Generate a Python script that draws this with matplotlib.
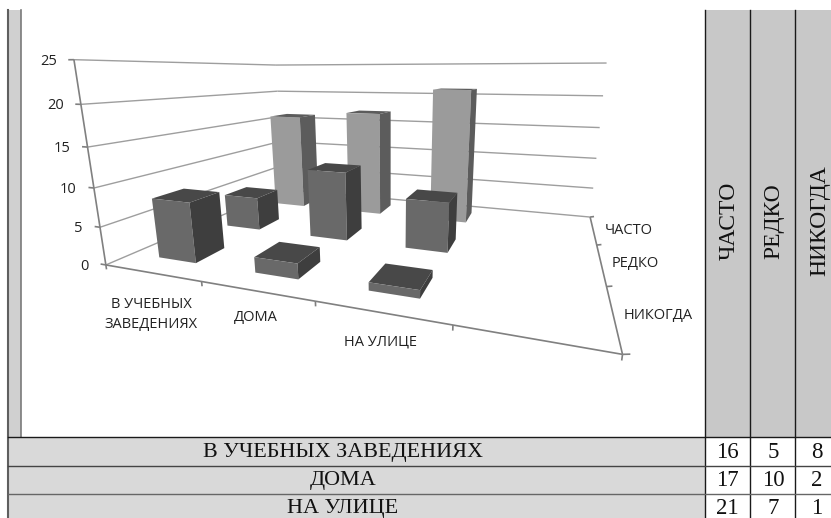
import numpy as np
import matplotlib
matplotlib.use("Agg")
import matplotlib.pyplot as plt
from matplotlib.patches import Rectangle
from mpl_toolkits.mplot3d import Axes3D  # noqa
from mpl_toolkits.mplot3d.art3d import Line3DCollection

# ---- data ----
places = ["В УЧЕБНЫХ ЗАВЕДЕНИЯХ", "ДОМА", "НА УЛИЦЕ"]
place_ticks = ["В УЧЕБНЫХ\nЗАВЕДЕНИЯХ", "ДОМА", "НА УЛИЦЕ"]
freq = ["ЧАСТО", "РЕДКО", "НИКОГДА"]
often = [16, 17, 21]
rarely = [5, 10, 7]
never = [8, 2, 1]
z_ticks = [0, 5, 10, 15, 20, 25]

W, H = 831, 518
fig = plt.figure(figsize=(W / 100, H / 100), dpi=100, facecolor="white")

# ---- table layer, in pixel coordinates ----
bg = fig.add_axes([0, 0, 1, 1], zorder=0)
bg.set_xlim(0, W)
bg.set_ylim(H, 0)
bg.axis("off")
GREY_H = "#c8c8c8"
GREY_R = "#d9d9d9"
LINE = "#1a1a1a"
col_x = [705, 750, 795, 840]
row_y = [437, 465.5, 494, 522]
bg.add_patch(Rectangle((8, 10), 13, 427, fc="#d0d0d0", ec="none"))
for i in range(3):
    bg.add_patch(Rectangle((col_x[i], 10), col_x[i + 1] - col_x[i], 427, fc=GREY_H, ec="none"))
    bg.add_patch(Rectangle((8, row_y[i]), 697, 28.5, fc=GREY_R, ec="none"))
for x in col_x[:3]:
    bg.plot([x, x], [10, H], color=LINE, lw=1)
bg.plot([8, 8], [10, H], color="#5f5f5f", lw=1.5)
bg.plot([21, 21], [10, 437], color="#7a7a7a", lw=1.2)
for y, c in zip(row_y[:3], [LINE, "#444444", "#666666"]):
    bg.plot([8, W], [y, y], color=c, lw=1)
serif = "Liberation Serif"
head_x = [729, 773.5, 820]
for i, name in enumerate(freq):
    bg.text(head_x[i], 221, name, rotation=90, ha="center", va="center",
            family=serif, fontsize=17, color="#111111")
vals = [often, rarely, never]
row_c = [453, 481, 509]
for r, name in enumerate(places):
    bg.text(343, row_c[r], name, ha="center", va="center", family=serif, fontsize=15.9, color="#111111")
    for c in range(3):
        bg.text([727, 773, 817][c], row_c[r], str(vals[c][r]), ha="center", va="center",
                family=serif, fontsize=16.5, color="#111111")

# ---- 3D chart: camera calibrated from the reference's floor and wall corners ----
calib = [
    ((0, 0, 0), (105.5, 265)), ((1, 0, 0), (201, 282)), ((2, 0, 0), (315, 303)),
    ((3, 0, 0), (451, 327)), ((4, 0, 0), (620, 352)), ((4, 1, 0), (609, 286)),
    ((4, 2, 0), (600, 244)), ((4, 3, 0), (589, 217)), ((0, 0, 5), (101, 227)),
    ((0, 0, 10), (95, 188)), ((0, 0, 15), (87, 147)), ((0, 0, 20), (81, 104)),
    ((0, 0, 25), (74, 59)), ((4, 3, 5), (592, 188)), ((4, 3, 10), (596, 158)),
    ((4, 3, 15), (600, 128)), ((4, 3, 20), (603, 97)), ((4, 3, 25), (607, 63)),
    ((0, 3, 25), (275, 65)), ((0, 3, 20), (278, 91)),
]
A = []
for (X, Y, Z), (u, v) in calib:
    A.append([X, Y, Z, 1, 0, 0, 0, 0, -u * X, -u * Y, -u * Z, -u])
    A.append([0, 0, 0, 0, X, Y, Z, 1, -v * X, -v * Y, -v * Z, -v])
P = np.linalg.svd(np.array(A, float))[2][-1].reshape(3, 4)
P = P / P[2, 3]

ax = fig.add_axes([0, -0.3, 1, 1.6], projection="3d", computed_zorder=False, zorder=1)
ax.patch.set_alpha(0)
ax.set_axis_off()
ax.set_xlim(0, 4)
ax.set_ylim(0, 3)
ax.set_zlim(0, 25)


def get_proj():
    T = ax.transData.get_affine().get_matrix()
    flip = np.array([[1, 0, 0], [0, -1, H], [0, 0, 1]], float)
    G = np.linalg.inv(T) @ flip @ P
    M = np.zeros((4, 4))
    M[0] = G[0]
    M[1] = G[1]
    M[3] = G[2]
    M[2] = [0, 0, 0.1, 0.5]
    return M


ax.get_proj = get_proj

GRID = "#9e9e9e"
AXIS = "#808080"
grid_segs = []
for z in z_ticks:
    grid_segs.append([(0, 0, z), (0, 3, z)])
    grid_segs.append([(0, 3, z), (4, 3, z)])
axis_segs = [[(0, 0, 0), (0, 0, 25)], [(0, 0, 0), (4, 0, 0)], [(4, 0, 0), (4, 3, 0)]]
for z in z_ticks:
    axis_segs.append([(-0.06, 0, z), (0, 0, z)])
for x in range(0, 5):
    axis_segs.append([(x, 0, -0.6), (x, 0, 0)])
for y in range(0, 4):
    axis_segs.append([(4, y, 0), (4.04, y, 0.15)])
ax.add_collection3d(Line3DCollection(grid_segs, colors=GRID, linewidths=1, zorder=1))
ax.add_collection3d(Line3DCollection(axis_segs, colors=AXIS, linewidths=1.2, zorder=2))

BW, BD = 0.4, 0.4
NONE = (0, 0, 0, 0)
# faces: bottom, top, front, back, left, right (hidden faces are transparent)
dark = [NONE, "#484848", "#696969", NONE, NONE, "#3e3e3e"]
light = [NONE, "#5c5c5c", "#9b9b9b", NONE, NONE, "#5c5c5c"]
rows = [(never, 0, dark), (rarely, 1, dark), (often, 2, light)]
for values, row, colors in rows:
    for i, v in enumerate(values):
        col = ax.bar3d(i + 0.5 - BW / 2, row + 0.5 - BD / 2, 0, BW, BD, v,
                       color=colors, shade=False, edgecolor="none")
        col.set_zorder(10 - row)

# ---- tick labels ----
sans = "Open Sans"
for z in z_ticks:
    u, v, w = P @ np.array([0, 0, z, 1.0])
    bg.text(u / w - 17, v / w + 1.5, str(z), ha="right", va="center", family=sans, fontsize=10.5, color="#222222", zorder=5)
for name, (x, y) in zip(place_ticks, [(151, 314.5), (256, 318), (380, 342)]):
    fig.text(x / W, 1 - y / H, name, ha="center", va="center", family=sans, fontsize=10.5, color="#222222", linespacing=1.42, zorder=5)
for name, (x, y) in zip(freq, [(605, 230.5), (612, 264), (624, 316)]):
    fig.text(x / W, 1 - y / H, name, ha="left", va="center", family=sans, fontsize=10.5, color="#222222", zorder=5)

fig.savefig("out.png", dpi=100)
